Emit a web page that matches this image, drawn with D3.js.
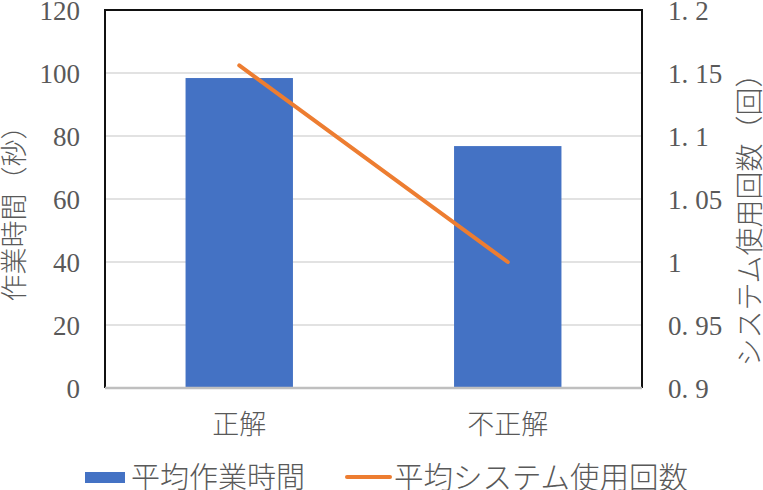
<!DOCTYPE html>
<html><head><meta charset="utf-8">
<script src="https://cdn.jsdelivr.net/npm/d3@7"></script>
<style>
body{margin:0;background:#fff;}
svg{display:block;}
text{fill:#595959;}
.num{font-family:"Liberation Serif","DejaVu Serif",serif;}
.jp{font-family:"Noto Sans CJK JP","Noto Sans CJK SC",sans-serif;font-weight:300;}
</style></head>
<body>
<svg id="chart" width="763" height="490"></svg>
<script>
const categories = ["正解", "不正解"];
const timeValues = [98.4, 76.8];
const countValues = [1.156, 1.0];
const leftTicks = [0, 20, 40, 60, 80, 100, 120];
const rightTicks = [0.9, 0.95, 1.0, 1.05, 1.1, 1.15, 1.2];
const seriesNames = ["平均作業時間", "平均システム使用回数"];
const leftTitle = "作業時間（秒）";
const rightTitle = "システム使用回数（回）";

const svg = d3.select("#chart");
const L = 105, R = 642, T = 10, B = 388;

const x = d3.scaleBand().domain(categories).range([L, R]).paddingInner(0.6).paddingOuter(0.3);
const yL = d3.scaleLinear().domain([0, 120]).range([B, T]);
const yR = d3.scaleLinear().domain([0.9, 1.2]).range([B, T]);

// gridlines
svg.append("g").selectAll("line").data(leftTicks.filter(d => d > 0 && d < 120)).join("line")
  .attr("x1", L).attr("x2", R).attr("y1", d => yL(d)).attr("y2", d => yL(d))
  .attr("stroke", "#d9d9d9").attr("stroke-width", 1.5);

// bars
svg.append("g").selectAll("rect").data(categories).join("rect")
  .attr("x", d => x(d)).attr("width", x.bandwidth())
  .attr("y", (d, i) => yL(timeValues[i])).attr("height", (d, i) => B - yL(timeValues[i]))
  .attr("fill", "#4472C4");

// border
svg.append("path")
  .attr("d", `M${L},${B} L${L},${T} L${R},${T} L${R},${B}`)
  .attr("fill", "none").attr("stroke", "#111").attr("stroke-width", 2);

// bottom axis line
svg.append("line").attr("x1", L).attr("x2", R).attr("y1", B).attr("y2", B)
  .attr("stroke", "#bfbfbf").attr("stroke-width", 2.5);

// line series
const line = d3.line().x((d, i) => x(categories[i]) + x.bandwidth() / 2).y(d => yR(d));
svg.append("path").datum(countValues).attr("d", line)
  .attr("fill", "none").attr("stroke", "#ED7D31").attr("stroke-width", 4).attr("stroke-linecap", "round");

// left axis
const leftAxis = d3.axisLeft(yL).tickValues(leftTicks).tickSize(0).tickPadding(0).tickFormat(d3.format("d"));
const gl = svg.append("g").attr("transform", `translate(${L - 25},0)`).call(leftAxis)
  .attr("font-family", null).attr("font-size", null);
gl.select(".domain").remove();
gl.selectAll("text").attr("class", "num").style("font-size", "27px").attr("fill", "#595959").attr("dy", "0.34em");

// right axis
const fmtR = d => d3.format("")(+d.toFixed(2));
const rightAxis = d3.axisRight(yR).tickValues(rightTicks).tickSize(0).tickPadding(0).tickFormat(fmtR);
const gr = svg.append("g").attr("transform", `translate(${R + 26},0)`).call(rightAxis)
  .attr("font-family", null).attr("font-size", null);
gr.select(".domain").remove();
gr.selectAll("text").each(function(d) {
  const s = fmtR(d);
  const t = d3.select(this).text(null).attr("class", "num")
    .style("font-size", "27px").attr("fill", "#595959").attr("dy", "0.34em");
  const parts = s.split(".");
  if (parts.length > 1) {
    t.append("tspan").text(parts[0] + ".");
    t.append("tspan").attr("dx", 7).text(parts[1]);
  } else {
    t.append("tspan").text(s);
  }
});

// category labels
svg.append("g").selectAll("text").data(categories).join("text")
  .attr("class", "jp")
  .attr("x", d => x(d) + x.bandwidth() / 2).attr("y", 434)
  .attr("text-anchor", "middle").style("font-size", "27px")
  .text(d => d);

// axis titles
svg.append("text").attr("class", "jp").attr("transform", "translate(24,207) rotate(-90)")
  .attr("text-anchor", "middle").style("font-size", "27px").text(leftTitle);
svg.append("text").attr("class", "jp").attr("transform", "translate(760,213) rotate(-90)")
  .attr("text-anchor", "middle").style("font-size", "28px").text(rightTitle);

// legend
const lg = svg.append("g");
lg.append("rect").attr("x", 85).attr("y", 472).attr("width", 40).attr("height", 11).attr("fill", "#4472C4");
lg.append("text").attr("class", "jp").attr("x", 131).attr("y", 488).style("font-size", "29px").text(seriesNames[0]);
lg.append("line").attr("x1", 347).attr("x2", 390).attr("y1", 477).attr("y2", 477)
  .attr("stroke", "#ED7D31").attr("stroke-width", 4).attr("stroke-linecap", "round");
lg.append("text").attr("class", "jp").attr("x", 394).attr("y", 488).style("font-size", "29.5px").text(seriesNames[1]);
</script>
</body></html>
